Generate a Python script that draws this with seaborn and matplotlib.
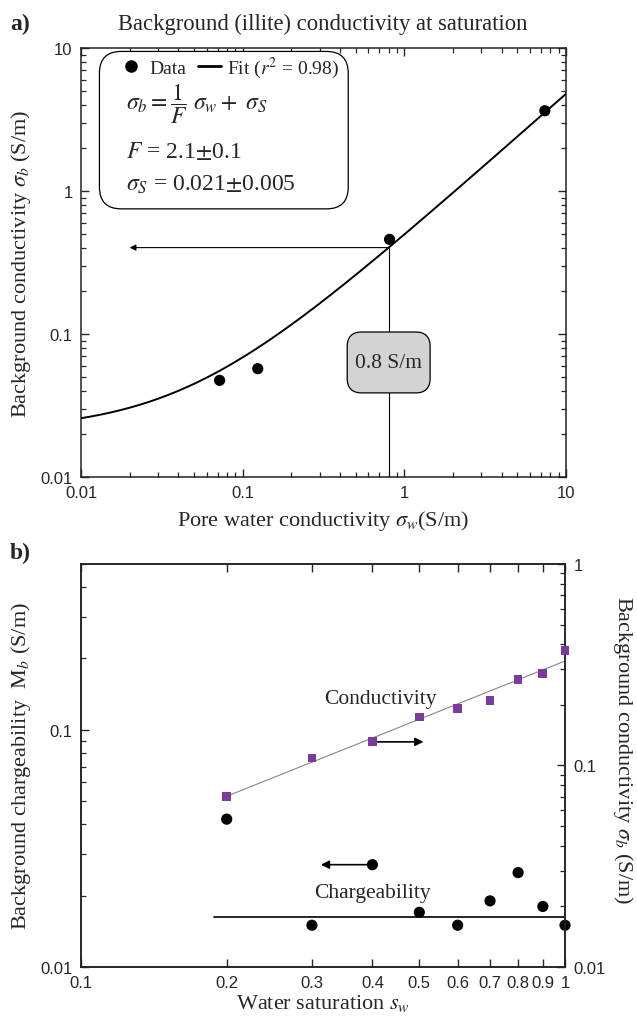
import numpy as np
import pandas as pd
import matplotlib
matplotlib.use("Agg")
import matplotlib.pyplot as plt
import seaborn as sns
from matplotlib.patches import FancyBboxPatch
from matplotlib.lines import Line2D
from matplotlib.ticker import LogLocator, NullFormatter, NullLocator

# ---- panel a: saturated samples ----
pore_water_sigma = [0.072, 0.124, 0.81, 7.4]        # S/m
bulk_sigma = [0.0474, 0.0572, 0.459, 3.64]          # S/m
formation_factor = 2.1
surface_sigma = 0.021
fit_r2 = 0.98
marker_sigma_w = 0.8                                 # S/m

# ---- panel b: partial saturation ----
saturation = [0.2, 0.3, 0.4, 0.5, 0.6, 0.7, 0.8, 0.9, 1.0]
chargeability = [0.042, 0.015, 0.027, 0.017, 0.015, 0.019, 0.025, 0.018, 0.015]
conductivity = [0.070, 0.109, 0.131, 0.174, 0.191, 0.211, 0.267, 0.286, 0.373]
chargeability_level = 0.0162
cond_fit_prefactor = 0.33
cond_fit_exponent = 0.96

a_ticks = [0.01, 0.1, 1, 10]
a_ticklabels = ["0.01", "0.1", "1", "10"]
b_xticks = [0.1, 0.2, 0.3, 0.4, 0.5, 0.6, 0.7, 0.8, 0.9, 1.0]
b_xticklabels = ["0.1", "0.2", "0.3", "0.4", "0.5", "0.6", "0.7", "0.8", "0.9", "1"]

sns.set_style("ticks")
plt.rcParams["font.family"] = ["Liberation Serif", "DejaVu Serif"]
plt.rcParams["mathtext.fontset"] = "stix"
plt.rcParams["axes.linewidth"] = 1.1
plt.rcParams["axes.edgecolor"] = "#222222"

PURPLE = "#7b3b9c"
TICKFONT = "Liberation Sans"
LABEL_FS = 16
ANNOT_FS = 15.5

fig = plt.figure(figsize=(6.37, 10.2), dpi=100)
ax_a = fig.add_axes([81 / 637, 1 - 478 / 1020, 485 / 637, 429 / 1020])
ax_b = fig.add_axes([81 / 637, 1 - 968 / 1020, 484 / 637, 403 / 1020])


def style_ticks(ax, **kw):
    ax.tick_params(which="major", direction="in", length=6, width=1.0, pad=6,
                   labelsize=12, labelfontfamily=TICKFONT, **kw)
    ax.tick_params(which="minor", direction="in", length=3.5, width=0.9, **kw)


# ================= panel a =================
df_a = pd.DataFrame({"sigma_w": pore_water_sigma, "sigma_b": bulk_sigma})
sw_grid = np.logspace(-2, 1, 200)
df_fit = pd.DataFrame({"sigma_w": sw_grid,
                       "sigma_b": sw_grid / formation_factor + surface_sigma})

sns.lineplot(data=df_fit, x="sigma_w", y="sigma_b", ax=ax_a, color="black",
             lw=1.4, zorder=3)
sns.scatterplot(data=df_a, x="sigma_w", y="sigma_b", ax=ax_a, color="black",
                s=65, edgecolor="none", zorder=4)

ax_a.set_xscale("log")
ax_a.set_yscale("log")
ax_a.set_xlim(0.01, 10)
ax_a.set_ylim(0.01, 10)
ax_a.set_xticks(a_ticks)
ax_a.set_xticklabels(a_ticklabels)
ax_a.set_yticks(a_ticks)
ax_a.set_yticklabels(a_ticklabels)
for axis in (ax_a.xaxis, ax_a.yaxis):
    axis.set_minor_locator(LogLocator(base=10, subs=np.arange(2, 10)))
    axis.set_minor_formatter(NullFormatter())
style_ticks(ax_a, top=True, right=True)

ax_a.set_xlabel(r"Pore water conductivity $\sigma_w$(S/m)", fontsize=LABEL_FS)
ax_a.set_ylabel(r"Background conductivity $\sigma_b$ (S/m)", fontsize=LABEL_FS)
ax_a.xaxis.set_label_coords(0.5, -0.072)
ax_a.yaxis.set_label_coords(-0.099, 0.5)

# guide at the marked pore-water conductivity
y_mark = marker_sigma_w / formation_factor + surface_sigma
ax_a.plot([marker_sigma_w, marker_sigma_w], [0.01, y_mark], color="black", lw=0.8, zorder=2)
ax_a.annotate("", xy=(0.02, y_mark), xytext=(marker_sigma_w, y_mark),
              arrowprops=dict(arrowstyle="-|>", lw=0.8, color="black",
                              mutation_scale=9, shrinkA=0, shrinkB=0))
x_frac = (np.log10(marker_sigma_w) + 2) / 3
ax_a.add_patch(FancyBboxPatch((x_frac - 0.0855, 0.196), 0.171, 0.142,
                              boxstyle="round,pad=0,rounding_size=0.03",
                              transform=ax_a.transAxes, fc="#d3d3d3", ec="black",
                              lw=0.9, zorder=5, mutation_aspect=485 / 429))
ax_a.text(x_frac, 0.268, f"{marker_sigma_w:g} S/m", transform=ax_a.transAxes,
          ha="center", va="center", fontsize=ANNOT_FS, zorder=6)

# legend / equation box
ax_a.add_patch(FancyBboxPatch((0.038, 0.625), 0.513, 0.367,
                              boxstyle="round,pad=0,rounding_size=0.045",
                              transform=ax_a.transAxes, fc="white", ec="black",
                              lw=0.9, zorder=5, mutation_aspect=485 / 429))
handles = [Line2D([], [], marker="o", color="black", ls="none", markersize=8),
           Line2D([], [], color="black", lw=2)]
leg = ax_a.legend(handles, ["Data", rf"Fit ($r^2$ = {fit_r2})"], ncol=2,
                  loc="upper left", bbox_to_anchor=(0.08, 0.985), frameon=False,
                  fontsize=14, handlelength=1.2, handletextpad=0.3,
                  columnspacing=0.6, borderaxespad=0, borderpad=0)
leg.set_zorder(6)
ax_a.text(0.093, 0.872, r"$\sigma_b = \dfrac{1}{F}\ \sigma_w +\ \sigma_S$",
          transform=ax_a.transAxes, fontsize=17, va="center", zorder=6)
ax_a.text(0.093, 0.760, rf"$F$ = {formation_factor}$\pm$0.1",
          transform=ax_a.transAxes, fontsize=17, va="center", zorder=6)
ax_a.text(0.093, 0.683, rf"$\sigma_S$ = {surface_sigma}$\pm$0.005",
          transform=ax_a.transAxes, fontsize=17, va="center", zorder=6)

fig.text(10 / 637, 1 - 24 / 1020, "a)", fontsize=17, fontweight="bold", va="center")
fig.text(323 / 637, 1 - 24 / 1020, "Background (illite) conductivity at saturation",
         fontsize=16.3, ha="center", va="center")

# ================= panel b =================
df_b = pd.DataFrame({"sw": saturation, "M": chargeability, "sigma": conductivity})
ax_b2 = ax_b.twinx()

level_x = np.array([0.188, 1.0])
sns.lineplot(x=level_x, y=[chargeability_level] * 2, ax=ax_b, color="black",
             lw=1.2, zorder=2)
sns.scatterplot(data=df_b, x="sw", y="M", ax=ax_b, color="black", s=65,
                edgecolor="none", zorder=4, clip_on=False)

sw_grid_b = np.linspace(0.2, 1.0, 50)
sns.lineplot(x=sw_grid_b, y=cond_fit_prefactor * sw_grid_b ** cond_fit_exponent,
             ax=ax_b2, color="#888888", lw=0.8, zorder=2)
sns.scatterplot(data=df_b, x="sw", y="sigma", ax=ax_b2, color=PURPLE, marker="s",
                s=40, edgecolor="none", zorder=4, clip_on=False)

for ax in (ax_b, ax_b2):
    ax.set_xscale("log")
    ax.set_yscale("log")
    ax.set_xlim(0.1, 1.0)
ax_b.set_ylim(0.01, 0.5)
ax_b2.set_ylim(0.01, 1.0)
ax_b.set_xticks(b_xticks)
ax_b.set_xticklabels(b_xticklabels)
ax_b.xaxis.set_minor_locator(NullLocator())
ax_b.set_yticks([0.01, 0.1])
ax_b.set_yticklabels(["0.01", "0.1"])
ax_b2.set_yticks([0.01, 0.1, 1])
ax_b2.set_yticklabels(["0.01", "0.1", "1"])
for axis in (ax_b.yaxis, ax_b2.yaxis):
    axis.set_minor_locator(LogLocator(base=10, subs=np.arange(2, 10)))
    axis.set_minor_formatter(NullFormatter())
style_ticks(ax_b, top=True)
style_ticks(ax_b2)
ax_b2.tick_params(axis="x", which="both", top=False, bottom=False)

ax_b.set_xlabel(r"Water saturation $s_w$", fontsize=LABEL_FS)
ax_b.set_ylabel(r"Background chargeability  M$_b$ (S/m)", fontsize=LABEL_FS)
ax_b2.set_ylabel(r"Background conductivity $\sigma_b$ (S/m)", fontsize=LABEL_FS,
                 rotation=-90, va="center")
ax_b.xaxis.set_label_coords(0.5, -0.062)
ax_b.yaxis.set_label_coords(-0.099, 0.5)
ax_b2.yaxis.set_label_coords(1.12, 0.54)

ax_b.text(0.618, 0.667, "Conductivity", transform=ax_b.transAxes, ha="center",
          va="center", fontsize=ANNOT_FS)
ax_b.text(0.603, 0.186, "Chargeability", transform=ax_b.transAxes, ha="center",
          va="center", fontsize=ANNOT_FS)
ax_b2.annotate("", xy=(0.51, conductivity[2]), xytext=(0.41, conductivity[2]),
               arrowprops=dict(arrowstyle="-|>", lw=1.2, color="black",
                               mutation_scale=12, shrinkA=0, shrinkB=0))
ax_b.annotate("", xy=(0.313, chargeability[2]), xytext=(0.39, chargeability[2]),
              arrowprops=dict(arrowstyle="-|>", lw=1.2, color="black",
                              mutation_scale=12, shrinkA=0, shrinkB=0))

fig.text(10 / 637, 1 - 553 / 1020, "b)", fontsize=17, fontweight="bold", va="center")

fig.savefig("out.png", dpi=100)
